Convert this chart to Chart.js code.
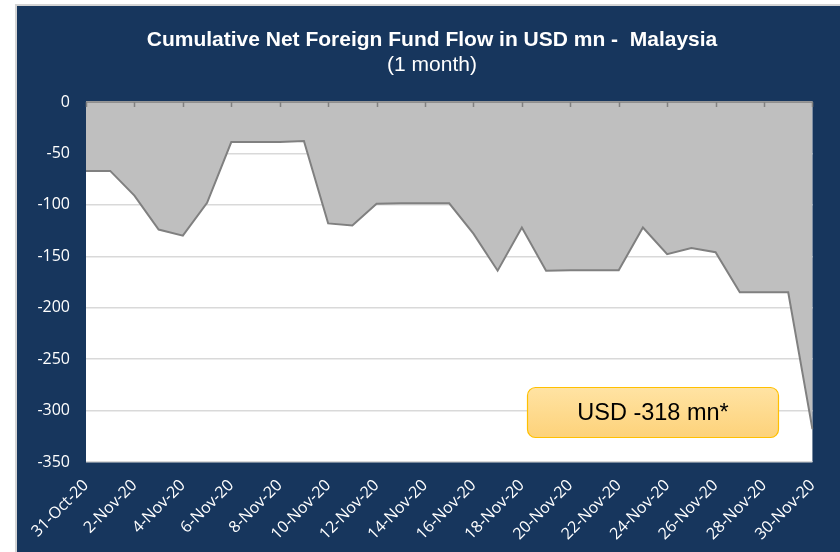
<!DOCTYPE html>
<html>
<head>
<meta charset="utf-8">
<script src="https://cdn.jsdelivr.net/npm/chart.js@4"></script>
<style>
  html, body { margin: 0; padding: 0; background: #ffffff; }
  #wrap { width: 840px; height: 552px; }
</style>
</head>
<body>
<div id="wrap"><canvas id="myChart" width="840" height="552"></canvas></div>
<script>
const dates = ['31-Oct-20', '1-Nov-20', '2-Nov-20', '3-Nov-20', '4-Nov-20', '5-Nov-20', '6-Nov-20',
    '7-Nov-20', '8-Nov-20', '9-Nov-20', '10-Nov-20', '11-Nov-20', '12-Nov-20', '13-Nov-20',
    '14-Nov-20', '15-Nov-20', '16-Nov-20', '17-Nov-20', '18-Nov-20', '19-Nov-20', '20-Nov-20',
    '21-Nov-20', '22-Nov-20', '23-Nov-20', '24-Nov-20', '25-Nov-20', '26-Nov-20', '27-Nov-20',
    '28-Nov-20', '29-Nov-20', '30-Nov-20'];
const cumulativeFlow = [-67, -67, -91, -124, -130, -98, -39, -39, -39, -38, -118, -120, -99, -98.5,
    -98.5, -98.5, -128, -164, -122, -164, -163.5, -163.5, -163.5, -122, -148, -142, -146, -185,
    -185, -185, -318];
const yTicks = [0, -50, -100, -150, -200, -250, -300, -350];
const titleText = 'Cumulative Net Foreign Fund Flow in USD mn -  Malaysia';
const subtitleText = '(1 month)';
const noteText = 'USD -318 mn*';

const navy = '#17365d';

// background, frame, titles and the callout box
const decor = {
    id: 'decor',
    beforeDraw(chart) {
        const ctx = chart.ctx;
        ctx.save();
        ctx.fillStyle = '#ffffff';
        ctx.fillRect(0, 0, 840, 552);
        ctx.fillStyle = '#d4d4d4';
        ctx.fillRect(15, 4, 825, 2);
        ctx.fillRect(15, 4, 2, 548);
        ctx.fillStyle = navy;
        ctx.fillRect(17, 6, 823, 546);
        ctx.fillStyle = '#ffffff';
        const a = chart.chartArea;
        ctx.fillRect(a.left, a.top, a.right - a.left, a.bottom - a.top);
        ctx.restore();
    },
    afterDatasetsDraw(chart) {
        const ctx = chart.ctx;
        const a = chart.chartArea;
        const x = chart.scales.x;
        ctx.save();
        // axis line at 0 with tick marks pointing down
        ctx.strokeStyle = '#808080';
        ctx.lineWidth = 1.5;
        ctx.beginPath();
        ctx.moveTo(a.left, a.top);
        ctx.lineTo(a.right, a.top);
        for (let i = 0; i < dates.length; i += 2) {
            const px = Math.round(x.getPixelForValue(i)) + 0.5;
            ctx.moveTo(px, a.top);
            ctx.lineTo(px, a.top + 5);
        }
        ctx.stroke();

        // titles
        ctx.fillStyle = '#ffffff';
        ctx.textAlign = 'center';
        ctx.textBaseline = 'middle';
        ctx.font = 'bold 21px "Liberation Sans", Arial, sans-serif';
        ctx.fillText(titleText, 432, 40);
        ctx.font = '21px "Liberation Sans", Arial, sans-serif';
        ctx.fillText(subtitleText, 432, 65);

        // callout
        const bx = 527.5, by = 387.5, bw = 251, bh = 50, r = 8;
        const g = ctx.createLinearGradient(0, by, 0, by + bh);
        g.addColorStop(0, '#ffe3a3');
        g.addColorStop(1, '#fdd27a');
        ctx.beginPath();
        ctx.roundRect(bx, by, bw, bh, r);
        ctx.fillStyle = g;
        ctx.fill();
        ctx.strokeStyle = '#ffc000';
        ctx.lineWidth = 1.2;
        ctx.stroke();
        ctx.fillStyle = '#000000';
        ctx.font = '23.5px "Liberation Sans", Arial, sans-serif';
        ctx.fillText(noteText, bx + bw / 2, by + bh / 2 + 1);
        ctx.restore();
    }
};

const data = {
    labels: dates,
    datasets: [{
        label: 'Cumulative flow',
        data: cumulativeFlow,
        borderColor: '#808080',
        borderWidth: 2,
        backgroundColor: '#bfbfbf',
        fill: 'end',
        pointRadius: 0,
        tension: 0
    }]
};

const config = {
    type: 'line',
    data: data,
    options: {
        responsive: false,
        animation: false,
        layout: {
            padding: { left: 17, right: 26, top: 102, bottom: 0 }
        },
        plugins: {
            legend: { display: false },
            tooltip: { enabled: false }
        },
        scales: {
            x: {
                offset: false,
                afterFit(scale) { scale.height = 90; },
                grid: { display: false, drawTicks: false },
                border: { display: false },
                ticks: {
                    autoSkip: false,
                    minRotation: 45,
                    maxRotation: 45,
                    padding: 14,
                    color: '#ffffff',
                    font: { family: '"Open Sans", sans-serif', size: 16 },
                    callback(v, i) { return i % 2 === 0 ? dates[i] : ''; }
                }
            },
            y: {
                min: yTicks[yTicks.length - 1],
                max: yTicks[0],
                afterFit(scale) { scale.width = 69; },
                afterBuildTicks(scale) { scale.ticks = yTicks.map(v => ({ value: v })); },
                grid: { color: '#d9d9d9', lineWidth: 1.5, drawTicks: false },
                border: { display: false },
                ticks: {
                    padding: 16,
                    color: '#ffffff',
                    font: { family: '"Open Sans", sans-serif', size: 16 }
                }
            }
        }
    },
    plugins: [decor]
};

const myChart = new Chart(document.getElementById('myChart'), config);
</script>
</body>
</html>
